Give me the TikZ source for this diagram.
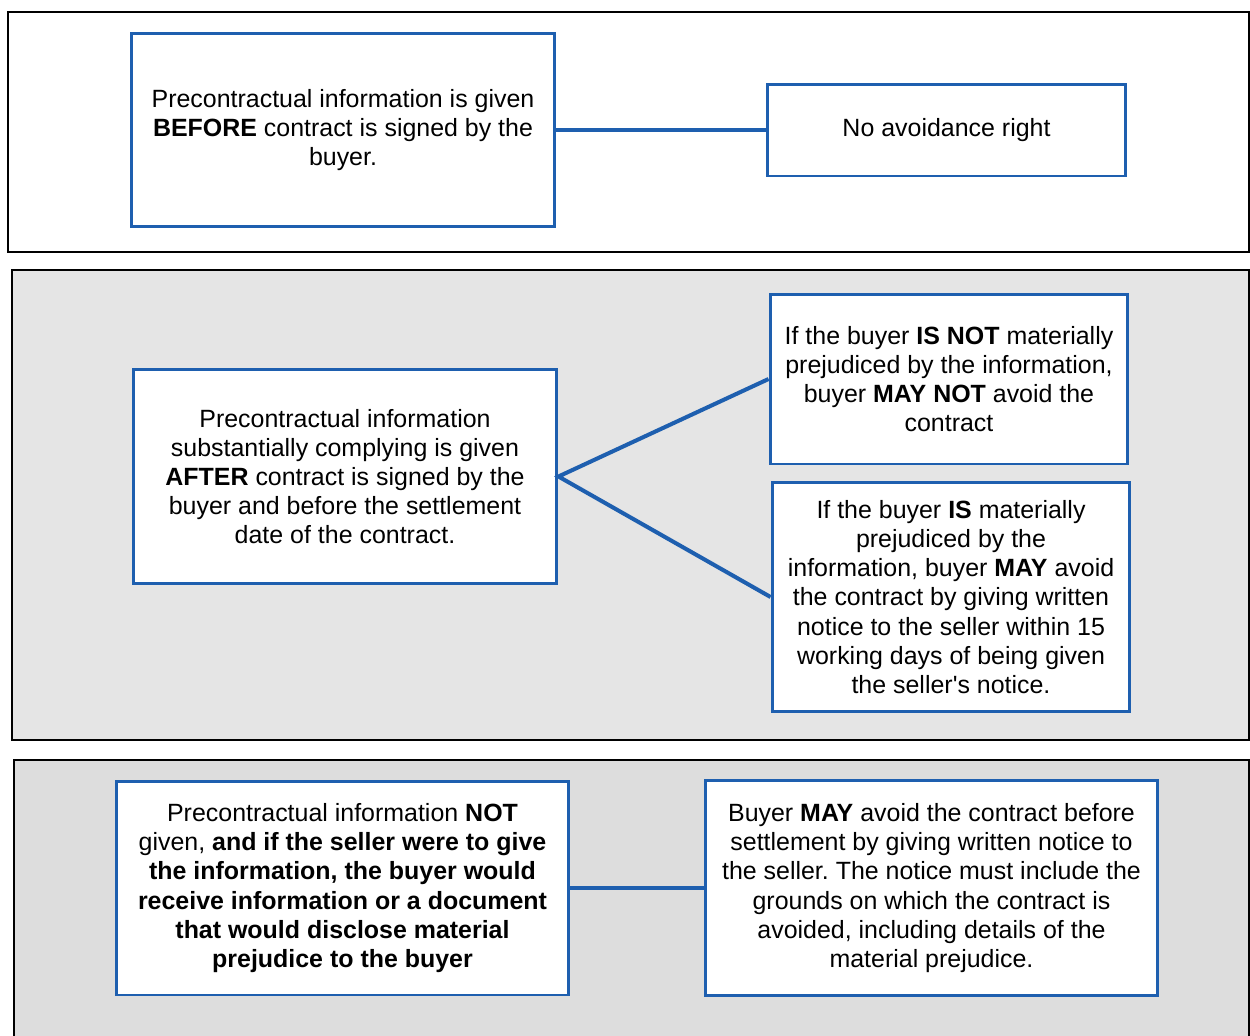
\documentclass[tikz,border=0pt]{standalone}
\usepackage{fontspec}
\setmainfont{Liberation Sans}
\frenchspacing
\definecolor{boxblue}{RGB}{30,95,175}
\definecolor{scangrey}{RGB}{229,229,229}
\definecolor{scangreyb}{RGB}{221,221,221}
\tikzset{
  infobox/.style={draw=boxblue, line width=1.7pt, fill=white, align=center,
    inner sep=3pt, font=\fontsize{14.2}{16.6}\selectfont},
  link/.style={boxblue, line width=2.3pt},
  panel/.style={black, line width=1.1pt}
}

\begin{document}
\begin{tikzpicture}[x=0.02cm, y=-0.02cm]
            \useasboundingbox (0,0) rectangle (1250,1035);
            % three panels
            \draw[panel, fill=white] (8,12) rectangle (1249,252);
            \draw[panel, fill=scangrey] (12,270) rectangle (1249,740);
            \draw[panel, fill=scangreyb] (14,760) rectangle (1249,1045);
            % before
            \node[infobox, minimum width=8.48cm, minimum height=3.86cm] (before) at (343,130)
                {Precontractual information is given\\ \textbf{BEFORE} contract is signed by the\\ buyer.};
            \node[infobox, minimum width=7.18cm, minimum height=1.84cm] (noavoid) at (946.5,130)
                {No avoidance right};
            \draw[link] (before.east) -- (noavoid.west);
            % after
            \node[infobox, minimum width=8.48cm, minimum height=4.3cm] (after) at (345,476.5)
                {Precontractual information\\ substantially complying is given\\ \textbf{AFTER} contract is signed by the\\ buyer and before the settlement\\ date of the contract.};
            \node[infobox, minimum width=7.16cm, minimum height=3.4cm] (notprej) at (949,379)
                {If the buyer \textbf{IS NOT} materially\\ prejudiced by the information,\\ buyer \textbf{MAY NOT} avoid the\\ contract};
            \node[infobox, minimum width=7.16cm, minimum height=4.6cm] (prej) at (951,597)
                {If the buyer \textbf{IS} materially\\ prejudiced by the\\ information, buyer \textbf{MAY} avoid\\ the contract by giving written\\ notice to the seller within 15\\ working days of being given\\ the seller\textquotesingle s notice.};
            \draw[link, line join=miter] (notprej.west) -- (after.east) -- (prej.west);
            % not given
            \node[infobox, minimum width=9.06cm, minimum height=4.28cm] (notgiven) at (342.5,888)
                {Precontractual information \textbf{NOT}\\ given, \textbf{and if the seller were to give}\\ \textbf{the information, the buyer would}\\ \textbf{receive information or a document}\\ \textbf{that would disclose material}\\ \textbf{prejudice to the buyer}};
            \node[infobox, minimum width=9.06cm, minimum height=4.3cm] (mayavoid) at (931.5,888)
                {Buyer \textbf{MAY} avoid the contract before\\ settlement by giving written notice to\\ the seller. The notice must include the\\ grounds on which the contract is\\ avoided, including details of the\\ material prejudice.};
            \draw[link] (notgiven.east) -- (mayavoid.west);
        \end{tikzpicture}
\end{document}
